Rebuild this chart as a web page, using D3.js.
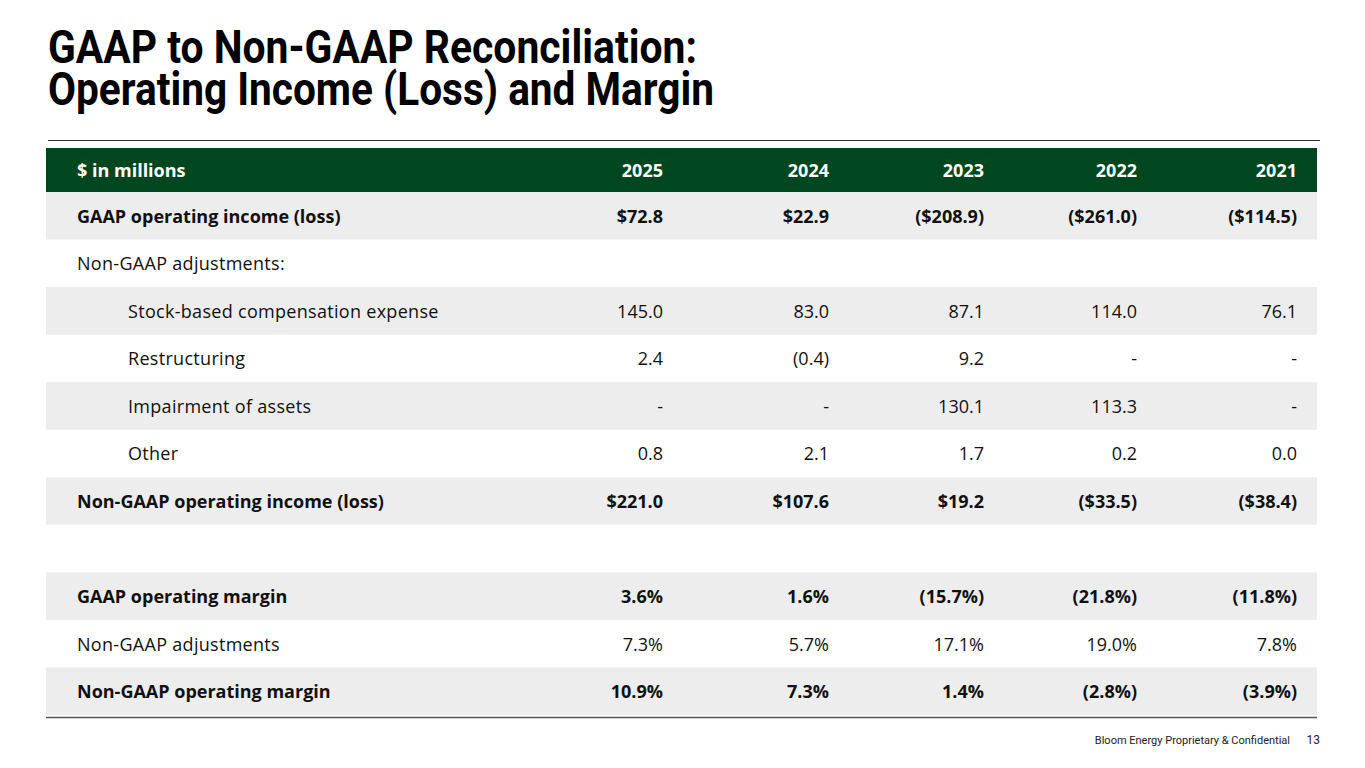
<!DOCTYPE html>
<html><head><meta charset="utf-8">
<script src="https://cdn.jsdelivr.net/npm/d3@7/dist/d3.min.js"></script>
<style>
html,body{margin:0;padding:0;background:#fff;}
svg{display:block;}
</style></head>
<body>
<script>
const years = ["2025","2024","2023","2022","2021"];
const rowLabels = [
  "GAAP operating income (loss)",
  "Non-GAAP adjustments:",
  "Stock-based compensation expense",
  "Restructuring",
  "Impairment of assets",
  "Other",
  "Non-GAAP operating income (loss)",
  "",
  "GAAP operating margin",
  "Non-GAAP adjustments",
  "Non-GAAP operating margin"
];
const boldRows = [0, 6, 8, 10];
const indentRows = [2, 3, 4, 5];
const v2025 = ["$72.8","","145.0","2.4","-","0.8","$221.0","","3.6%","7.3%","10.9%"];
const v2024 = ["$22.9","","83.0","(0.4)","-","2.1","$107.6","","1.6%","5.7%","7.3%"];
const v2023 = ["($208.9)","","87.1","9.2","130.1","1.7","$19.2","","(15.7%)","17.1%","1.4%"];
const v2022 = ["($261.0)","","114.0","-","113.3","0.2","($33.5)","","(21.8%)","19.0%","(2.8%)"];
const v2021 = ["($114.5)","","76.1","-","-","0.0","($38.4)","","(11.8%)","7.8%","(3.9%)"];
const columns = [v2025, v2024, v2023, v2022, v2021];
const headerLabel = "$ in millions";
const titleLines = ["GAAP to Non-GAAP Reconciliation:", "Operating Income (Loss) and Margin"];
const footerText = "Bloom Energy Proprietary & Confidential";
const pageNumber = "13";

const W = 1365, H = 768;
const GREEN = "#00461f", GRAY = "#ededed", TXT = "#111111";
const bodyFont = "'Open Sans', 'Noto Sans', sans-serif";
const FS = 18;

const svg = d3.select("body").append("svg").attr("width", W).attr("height", H);

// Title (one text element, two lines)
const titleWidths = [649, 666];
const title = svg.append("text")
  .attr("font-family", "Roboto, sans-serif")
  .attr("font-weight", 700)
  .attr("font-size", 46)
  .attr("fill", "#000");
title.selectAll("tspan").data(titleLines).join("tspan")
  .attr("x", 48)
  .attr("y", (d,i) => 63 + i*42)
  .attr("textLength", (d,i) => titleWidths[i])
  .attr("lengthAdjust", "spacingAndGlyphs")
  .text(d => d);

// Top rule
svg.append("line").attr("x1",48).attr("x2",1320).attr("y1",140.5).attr("y2",140.5)
  .attr("stroke","#333").attr("stroke-width",1.2);

const tableLeft = 46, tableRight = 1317;
const y = d3.scaleBand().domain(d3.range(rowLabels.length)).range([192, 715]).padding(0);
const x = d3.scaleOrdinal().domain(years).range([663, 829, 984, 1137, 1297]);

// Header
svg.append("rect").attr("x",tableLeft).attr("y",148).attr("width",tableRight-tableLeft).attr("height",44).attr("fill",GREEN);
svg.append("text").attr("x",77).attr("y",170.5).attr("dy","0.36em")
  .attr("font-family",bodyFont).attr("font-weight",700).attr("font-size",FS).attr("fill","#fff")
  .text(headerLabel);
svg.selectAll("text.yr").data(years).join("text").attr("class","yr")
  .attr("x", d => x(d)).attr("y",170.5).attr("dy","0.36em").attr("text-anchor","end")
  .attr("font-family",bodyFont).attr("font-weight",700).attr("font-size",FS).attr("fill","#fff")
  .text(d => d);

// Rows
const rows = svg.selectAll("g.row").data(rowLabels.map((l,i)=>({label:l,i}))).join("g").attr("class","row")
  .attr("transform", d => `translate(0,${y(d.i)})`);
rows.filter(d => d.i % 2 === 0).append("rect")
  .attr("x",tableLeft).attr("width",tableRight-tableLeft).attr("height",y.bandwidth()).attr("fill",GRAY);
rows.append("text")
  .attr("x", d => indentRows.includes(d.i) ? 128 : 77)
  .attr("y", y.bandwidth()/2 + 0.5).attr("dy","0.36em")
  .attr("font-family",bodyFont).attr("font-size",FS)
  .attr("font-weight", d => boldRows.includes(d.i) ? 700 : 400)
  .attr("letter-spacing", d => boldRows.includes(d.i) ? 0 : 0.3)
  .attr("fill",TXT)
  .text(d => d.label);
years.forEach((yr, c) => {
  rows.append("text")
    .attr("x", x(yr)).attr("y", y.bandwidth()/2 + 0.5).attr("dy","0.36em").attr("text-anchor","end")
    .attr("font-family",bodyFont).attr("font-size",FS)
    .attr("font-weight", d => boldRows.includes(d.i) ? 700 : 400)
    .attr("fill",TXT)
    .text(d => columns[c][d.i]);
});

// Bottom rule
svg.append("line").attr("x1",tableLeft).attr("x2",tableRight).attr("y1",717.5).attr("y2",717.5)
  .attr("stroke","#555").attr("stroke-width",1.5);

// Footer
svg.append("text").attr("x",1290).attr("y",744).attr("text-anchor","end")
  .attr("font-family","Roboto, sans-serif").attr("font-size",11).attr("fill","#222").text(footerText);
svg.append("text").attr("x",1320).attr("y",744).attr("text-anchor","end")
  .attr("font-family","Roboto, sans-serif").attr("font-size",12).attr("fill","#222").text(pageNumber);
</script>
</body></html>
